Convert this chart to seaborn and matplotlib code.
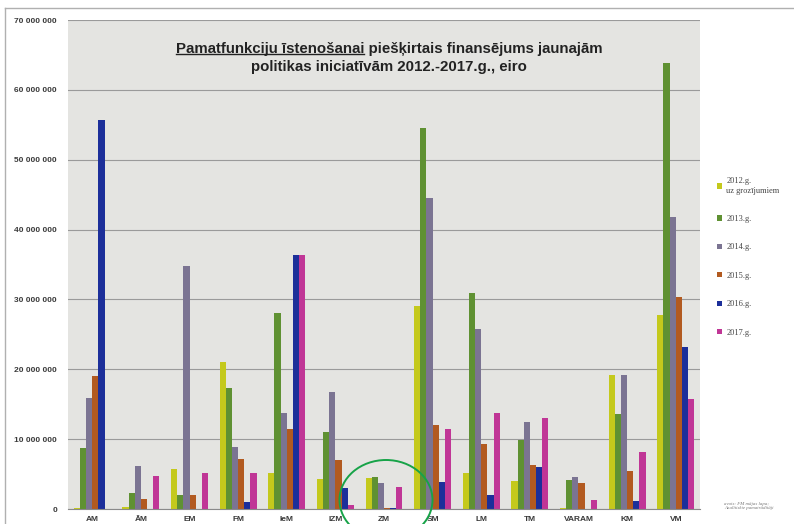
import matplotlib
matplotlib.use("Agg")
import matplotlib.pyplot as plt
import seaborn as sns
import pandas as pd
import numpy as np
from matplotlib.ticker import FuncFormatter, MultipleLocator
from matplotlib.patches import Ellipse
from matplotlib.lines import Line2D

# ---------------- data ----------------
ministries = ["AM", "ĀM", "EM", "FM", "IeM", "IZM", "ZM", "SM", "LM", "TM", "VARAM", "KM", "VM"]
years = ["2012.g.\nuz grozījumiem", "2013.g.", "2014.g.", "2015.g.", "2016.g.", "2017.g."]

v2012 = [0.1, 0.3, 5.7, 21.0, 5.2, 4.3, 4.4, 29.1, 5.1, 4.0, 0.1, 19.2, 27.7]
v2013 = [8.8, 2.3, 2.0, 17.3, 28.0, 11.0, 4.6, 54.6, 30.9, 9.9, 4.1, 13.6, 63.9]
v2014 = [15.9, 6.1, 34.8, 8.9, 13.7, 16.8, 3.7, 44.5, 25.8, 12.5, 4.6, 19.2, 41.8]
v2015 = [19.1, 1.4, 2.0, 7.1, 11.4, 7.0, 0.1, 12.0, 9.3, 6.3, 3.7, 5.4, 30.4]
v2016 = [55.7, 0.0, 0.0, 1.0, 36.4, 3.0, 0.2, 3.9, 2.0, 6.0, 0.0, 1.1, 23.2]
v2017 = [0.0, 4.7, 5.1, 5.1, 36.4, 0.6, 3.2, 11.5, 13.7, 13.0, 1.3, 8.2, 15.7]

series = [v2012, v2013, v2014, v2015, v2016, v2017]
colors = ["#c4c91c", "#5f9132", "#7b7492", "#b25a20", "#1c2f9a", "#c03696"]

title_line1 = "Pamatfunkciju īstenošanai piešķirtais finansējums jaunajām"
title_line2 = "politikas iniciatīvām 2012.-2017.g., eiro"
underlined_part = "Pamatfunkciju īstenošanai"
source_note = "avots: FM mājas lapa;\nAnalītiskie pamatrādītāji"

rows = []
for y, vals in zip(years, series):
    for m, v in zip(ministries, vals):
        rows.append({"ministry": m, "year": y, "value": v * 1_000_000})
df = pd.DataFrame(rows)

# ---------------- figure ----------------
W, H = 794, 524
fig = plt.figure(figsize=(W / 100, H / 100), dpi=100)
fig.patch.set_facecolor("white")

left, right, top, bottom = 68, 700, 20, 509
ax = fig.add_axes([left / W, 1 - bottom / H, (right - left) / W, (bottom - top) / H])
ax.set_facecolor("#e4e4e1")

sns.barplot(data=df, x="ministry", y="value", hue="year", palette=colors,
            width=0.76, saturation=1, ax=ax, errorbar=None, legend=True)

ax.set_ylim(0, 70_000_000)
ax.yaxis.set_major_locator(MultipleLocator(10_000_000))
ax.yaxis.set_major_formatter(FuncFormatter(lambda v, p: f"{int(v):,}".replace(",", " ")))
ax.set_axisbelow(True)
ax.grid(axis="y", color="#9a9a9a", linewidth=0.8)
ax.set_xlabel("")
ax.set_ylabel("")
for s in ["top", "right", "left"]:
    ax.spines[s].set_visible(False)
ax.spines["bottom"].set_color("#8a8a8a")
ax.tick_params(axis="y", length=0, labelsize=6, labelcolor="#3a3a3a", pad=8)
ax.tick_params(axis="x", length=0, labelsize=6, labelcolor="#3a3a3a", pad=5)
for t in ax.get_yticklabels() + ax.get_xticklabels():
    t.set_fontweight("bold")
    t.set_family("Liberation Sans")
ax.set_xlim(-0.5, len(ministries) - 0.5)

# legend
handles, labels = ax.get_legend_handles_labels()
leg = ax.legend(handles, labels, loc="upper left", bbox_to_anchor=(714 / W, 1 - 174 / H),
                bbox_transform=fig.transFigure, frameon=False,
                prop={"family": "Liberation Serif", "size": 6},
                handlelength=0.6, handleheight=0.6, handletextpad=0.5,
                labelspacing=2.45, borderaxespad=0)
for t in leg.get_texts():
    t.set_color("#444444")

# title
tx = 389 / W
fs = 10.8
t1 = fig.text(tx, 1 - 53 / H, title_line1, ha="center", va="baseline",
              fontsize=fs, fontweight="bold", family="Liberation Sans", color="#222222")
t2 = fig.text(tx, 1 - 71 / H, title_line2, ha="center", va="baseline",
              fontsize=fs, fontweight="bold", family="Liberation Sans", color="#222222")
fig.canvas.draw()
r = fig.canvas.get_renderer()
bb1 = t1.get_window_extent(r)
tmp = fig.text(0, 0, underlined_part, fontsize=fs, fontweight="bold", family="Liberation Sans")
wpart = tmp.get_window_extent(r).width
tmp.remove()
uy = (bb1.y0 + 2) / H
fig.add_artist(Line2D([bb1.x0 / W, (bb1.x0 + wpart) / W], [uy, uy],
                      transform=fig.transFigure, color="#222222", lw=1.0))

# outer frame
fig.add_artist(Line2D([5 / W, 5 / W], [0, 1 - 8 / H], transform=fig.transFigure, color="#b0b0b0", lw=1))
fig.add_artist(Line2D([5 / W, 1], [1 - 8 / H, 1 - 8 / H], transform=fig.transFigure, color="#b0b0b0", lw=1))

# source note
fig.text(724 / W, 1 - 506 / H, source_note, fontsize=3.5, color="#777777",
         family="Liberation Serif", va="center", ha="left", style="italic")

# green ellipse highlight
fig.add_artist(Ellipse((386 / W, 1 - 500 / H), 93 / W, 80 / H, transform=fig.transFigure,
                       fill=False, edgecolor="#17a348", lw=1.4))

fig.savefig("out.png", dpi=100)
